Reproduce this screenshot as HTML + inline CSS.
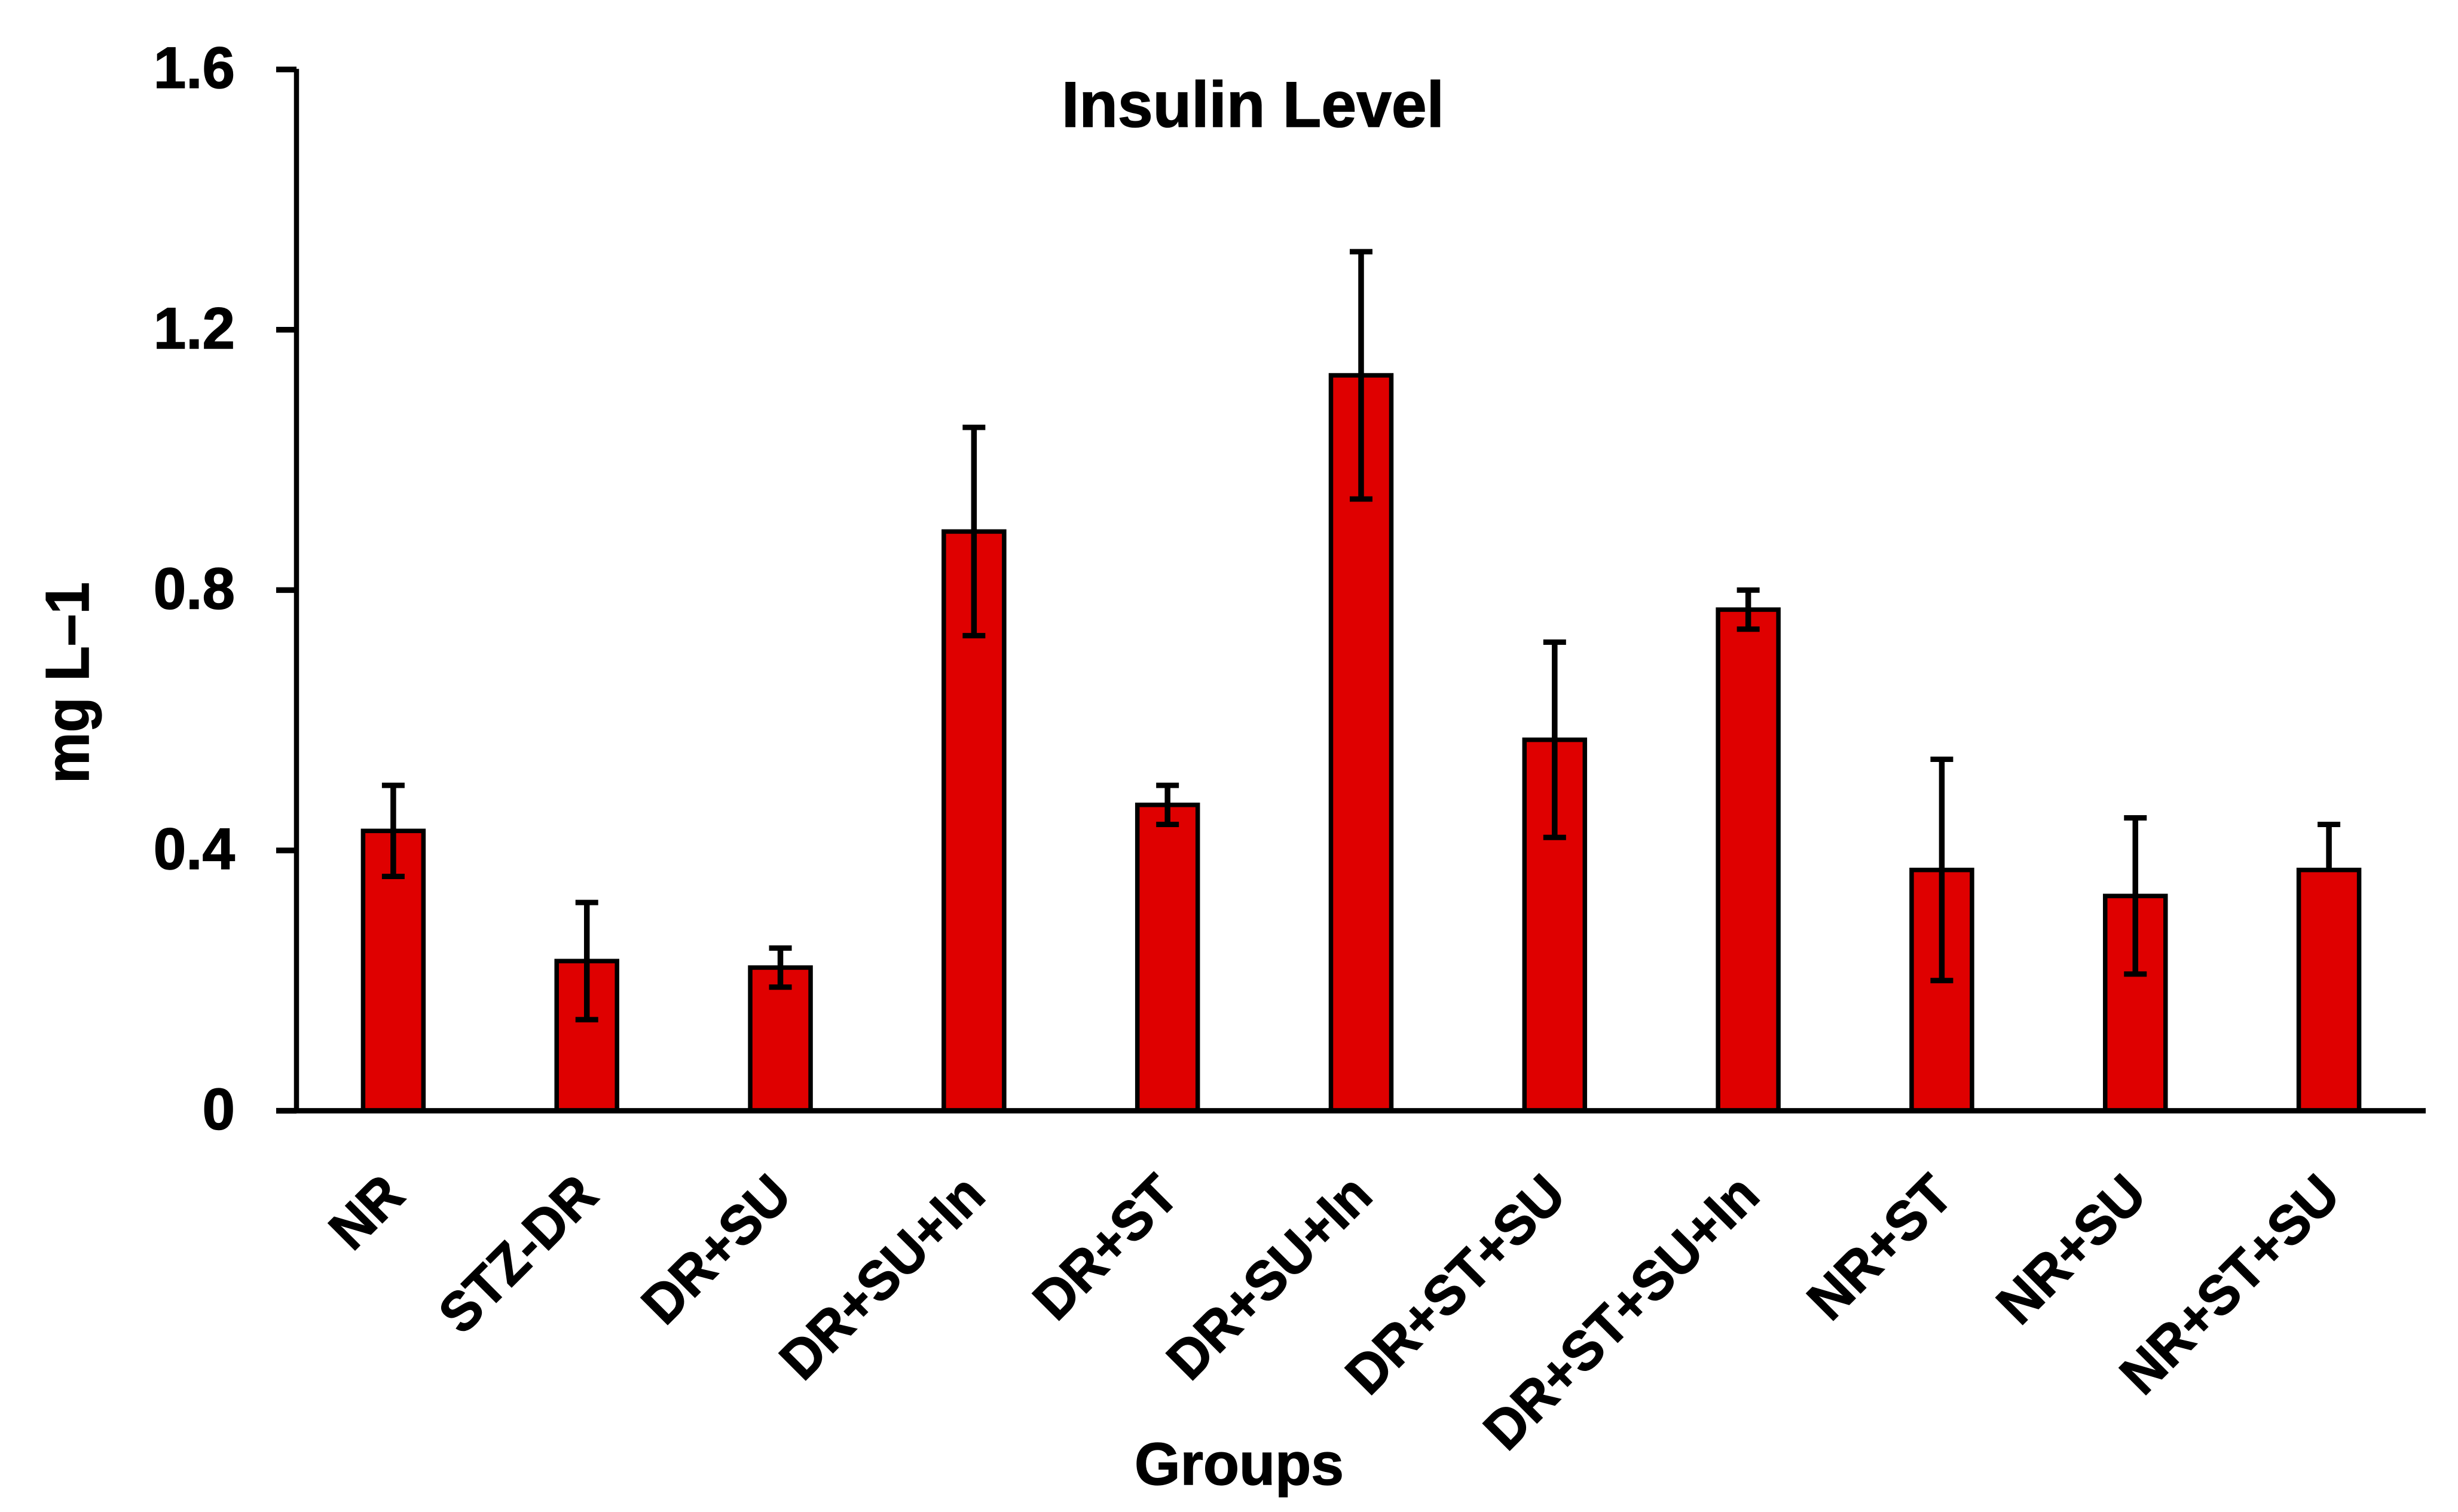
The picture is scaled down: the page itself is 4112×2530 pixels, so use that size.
<!DOCTYPE html>
<html lang="en">
<head>
<meta charset="utf-8">
<title>Insulin Level</title>
<style>
  html, body { margin: 0; padding: 0; background: #ffffff; }
  svg { display: block; }
  text { font-family: "Liberation Sans", sans-serif; font-weight: 700; fill: #000000; stroke: #000000; stroke-width: 1.5px; text-rendering: geometricPrecision; }
</style>
</head>
<body>
<svg id="chart" xmlns="http://www.w3.org/2000/svg" width="4112" height="2530" viewBox="0 0 4112 2530">
  <rect x="0" y="0" width="4112" height="2530" fill="#ffffff"/>
  <g id="bars"></g>
  <g id="errors"></g>
  <g id="axes"></g>
  <g id="ticks"></g>
  <g id="xlabels"></g>
  <text x="1776" y="212" font-size="108" textLength="640" lengthAdjust="spacingAndGlyphs">Insulin Level</text>
  <text transform="translate(148,1311) rotate(-90)" font-size="103" textLength="337" lengthAdjust="spacingAndGlyphs">mg L–1</text>
  <text x="1898" y="2484" font-size="100" textLength="350" lengthAdjust="spacingAndGlyphs">Groups</text>
</svg>
<script>
const categories = ['NR', 'STZ-DR', 'DR+SU', 'DR+SU+In', 'DR+ST', 'DR+SU+In', 'DR+ST+SU', 'DR+ST+SU+In', 'NR+ST', 'NR+SU', 'NR+ST+SU'];
const values = [0.43, 0.23, 0.22, 0.89, 0.47, 1.13, 0.57, 0.77, 0.37, 0.33, 0.37];
const errorHigh = [0.50, 0.32, 0.25, 1.05, 0.50, 1.32, 0.72, 0.80, 0.54, 0.45, 0.44];
const errorLow = [0.36, 0.14, 0.19, 0.73, 0.44, 0.94, 0.42, 0.74, 0.20, 0.21, null];
const tickValues = [0, 0.4, 0.8, 1.2, 1.6];
const tickLabels = ['0', '0.4', '0.8', '1.2', '1.6'];

const NS = 'http://www.w3.org/2000/svg';
const plotLeft = 496;
const plotRight = 4058;
const plotBottom = 1858.6;
const pxPerUnit = 1089;
const barWidth = 101;
const capWidth = 38;

function yScale(v) { return plotBottom - v * pxPerUnit; }
function xScale(i) { return plotLeft + (plotRight - plotLeft) / categories.length * (i + 0.5); }

function make(tag, attrs, parent) {
  const el = document.createElementNS(NS, tag);
  for (const k in attrs) el.setAttribute(k, attrs[k]);
  parent.appendChild(el);
  return el;
}

const barsG = document.getElementById('bars');
const errorsG = document.getElementById('errors');
const axesG = document.getElementById('axes');
const ticksG = document.getElementById('ticks');
const xlabelsG = document.getElementById('xlabels');

categories.forEach(function (name, i) {
  const cx = xScale(i);
  const top = yScale(values[i]);
  const bar = make('rect', { x: cx - barWidth / 2, y: top, width: barWidth, height: plotBottom - top, fill: '#df0000', stroke: '#000000', 'stroke-width': 7.5 }, barsG);
  
  

  const hi = yScale(errorHigh[i]);
  const hasLow = errorLow[i] !== null;
  const lo = hasLow ? yScale(errorLow[i]) : top;
  const stem = make('line', { x1: cx, x2: cx, y1: hi, y2: lo, stroke: '#000000', 'stroke-width': 9.5 }, errorsG);
  
  
  const capHigh = make('line', { x1: cx - capWidth / 2, x2: cx + capWidth / 2, y1: hi, y2: hi, stroke: '#000000', 'stroke-width': 9 }, errorsG);
  
  
  if (hasLow) {
    const capLow = make('line', { x1: cx - capWidth / 2, x2: cx + capWidth / 2, y1: lo, y2: lo, stroke: '#000000', 'stroke-width': 9 }, errorsG);
    
    
  }

  const label = make('text', { transform: 'translate(' + (cx + 23) + ',2005) rotate(-45) scale(0.96,1)', 'font-size': 93, 'text-anchor': 'end' }, xlabelsG);
  label.textContent = name;
  
  
});

const yAxis = make('line', { x1: plotLeft, x2: plotLeft, y1: yScale(1.6) - 1, y2: plotBottom, stroke: '#000000', 'stroke-width': 8.5 }, axesG);


const xAxis = make('line', { x1: 462, x2: plotRight, y1: plotBottom, y2: plotBottom, stroke: '#000000', 'stroke-width': 9 }, axesG);



tickValues.forEach(function (v, i) {
  const y = yScale(v);
  const tick = make('line', { x1: 462, x2: plotLeft, y1: y, y2: y, stroke: '#000000', 'stroke-width': 9.5 }, ticksG);
  
  
  const label = make('text', { x: 393, y: y + 31, 'font-size': 98, 'text-anchor': 'end' }, ticksG);
  label.textContent = tickLabels[i];
  
  
});
</script>
</body>
</html>
